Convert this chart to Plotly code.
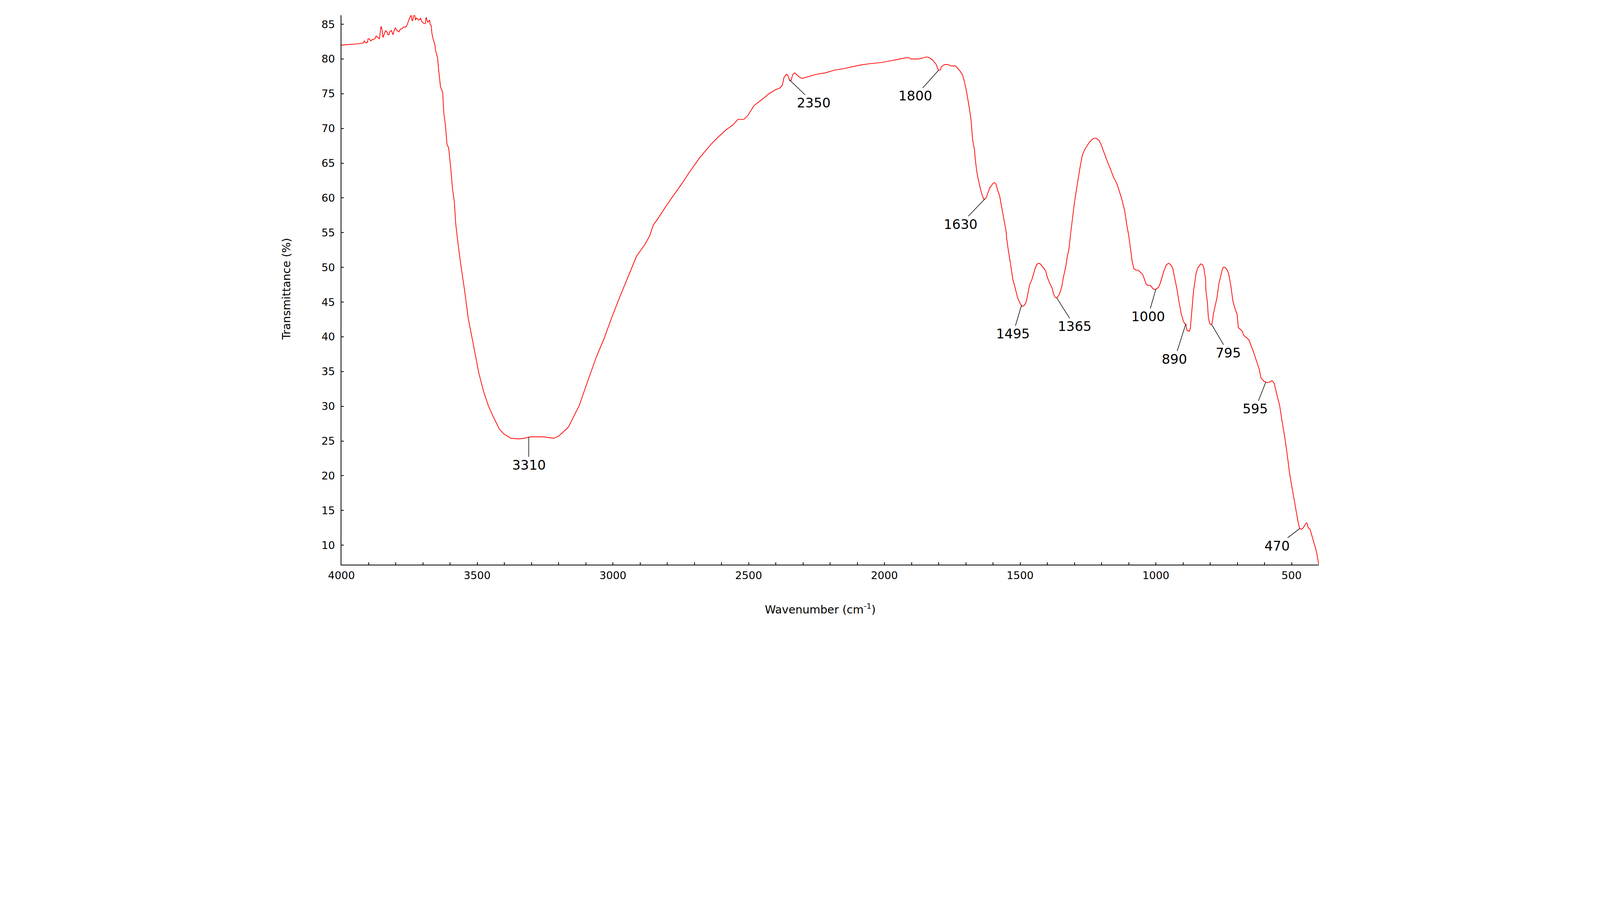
import numpy as np
import plotly.graph_objects as go

# FTIR spectrum
wavenumber = [
    4000, 3960, 3936, 3920, 3916, 3910, 3904, 3902, 3897, 3892, 3886, 3877, 3872, 3860,
    3854, 3850, 3847, 3844, 3837, 3831, 3829, 3824, 3823, 3816, 3810, 3805, 3801, 3796,
    3788, 3783, 3775, 3772, 3763, 3758, 3748, 3743, 3740, 3737, 3734, 3730, 3727, 3724,
    3720, 3717, 3711, 3709, 3704, 3696, 3691, 3688, 3682, 3679, 3675, 3673, 3669, 3667,
    3663, 3656, 3653, 3646, 3642, 3635, 3627, 3623, 3617, 3611, 3605, 3597, 3591, 3584,
    3579, 3570, 3561, 3546, 3533, 3517, 3494, 3476, 3459, 3442, 3418, 3401, 3376, 3348,
    3326, 3304, 3255, 3218, 3200, 3183, 3164, 3146, 3124, 3093, 3061, 3033, 3005, 2974,
    2944, 2913, 2882, 2865, 2851, 2838, 2806, 2785, 2745, 2720, 2680, 2639, 2611, 2583,
    2558, 2540, 2518, 2504, 2480, 2453, 2425, 2400, 2386, 2376, 2370, 2361, 2356, 2349,
    2344, 2337, 2330, 2313, 2303, 2250, 2218, 2183, 2151, 2118, 2093, 2058, 2010, 1955,
    1932, 1910, 1902, 1874, 1864, 1845, 1835, 1821, 1809, 1801, 1794, 1790, 1778, 1766,
    1754, 1738, 1722, 1712, 1705, 1697, 1689, 1681, 1675, 1668, 1665, 1660, 1655, 1648,
    1643, 1638, 1633, 1627, 1623, 1619, 1611, 1605, 1600, 1594, 1589, 1584, 1575, 1570,
    1564, 1558, 1552, 1549, 1544, 1535, 1527, 1518, 1509, 1499, 1492, 1485, 1479, 1475,
    1470, 1465, 1457, 1449, 1445, 1439, 1432, 1426, 1417, 1406, 1400, 1392, 1382, 1377,
    1371, 1365, 1357, 1352, 1346, 1342, 1337, 1331, 1326, 1320, 1315, 1310, 1305, 1301,
    1295, 1286, 1278, 1271, 1263, 1255, 1245, 1235, 1228, 1220, 1210, 1203, 1193, 1182,
    1170, 1156, 1143, 1136, 1126, 1115, 1107, 1100, 1096, 1092, 1087, 1081, 1073, 1065,
    1049, 1043, 1036, 1030, 1020, 1010, 1002, 991, 984, 971, 961, 952, 944, 938,
    929, 922, 915, 906, 899, 894, 889, 888, 885, 877, 873, 868, 861, 857,
    852, 846, 835, 828, 823, 820, 817, 816, 812, 810, 807, 803, 800, 794,
    791, 788, 779, 775, 768, 763, 756, 752, 745, 737, 732, 724, 716, 708,
    701, 696, 689, 682, 676, 667, 658, 642, 629, 619, 613, 602, 589, 580,
    572, 564, 555, 544, 535, 525, 515, 509, 503, 495, 489, 482, 475, 470,
    464, 459, 452, 446, 442, 439, 432, 425, 416, 408, 400,
]
transmittance = [
    82.0, 82.1, 82.2, 82.3, 82.6, 82.3, 82.4, 82.9, 82.9, 82.6, 82.8, 82.9, 83.3, 82.9,
    84.7, 84.2, 83.1, 83.4, 84.1, 83.8, 83.5, 83.5, 83.9, 84.1, 83.5, 84.2, 84.5, 84.1,
    83.9, 84.3, 84.4, 84.6, 84.6, 84.9, 86.0, 86.3, 85.5, 85.6, 86.3, 86.3, 85.6, 85.9,
    85.8, 85.6, 85.7, 85.9, 85.4, 85.1, 85.1, 86.0, 85.3, 85.4, 85.6, 85.0, 84.8, 83.8,
    83.0, 82.1, 81.2, 80.2, 78.5, 76.0, 75.2, 72.3, 70.5, 67.7, 67.2, 64.2, 61.4, 59.4,
    56.3, 53.3, 50.6, 46.6, 42.7, 39.5, 34.8, 32.1, 30.1, 28.6, 26.7, 26.0, 25.4, 25.3,
    25.4, 25.6, 25.6, 25.4, 25.7, 26.3, 27.0, 28.4, 30.1, 33.6, 37.1, 39.7, 42.7, 45.8,
    48.7, 51.6, 53.3, 54.5, 56.1, 56.8, 58.7, 59.9, 62.1, 63.6, 65.8, 67.7, 68.8, 69.8,
    70.5, 71.3, 71.3, 71.8, 73.3, 74.1, 75.0, 75.6, 75.8, 76.2, 77.3, 77.8, 77.7, 76.9,
    76.9, 77.8, 78.0, 77.4, 77.2, 77.8, 78.0, 78.4, 78.6, 78.9, 79.1, 79.3, 79.5, 79.9,
    80.1, 80.2, 80.0, 80.0, 80.1, 80.3, 80.2, 79.8, 79.2, 78.4, 78.4, 78.9, 79.2, 79.2,
    79.0, 79.0, 78.3, 77.7, 76.7, 75.2, 73.4, 71.3, 68.4, 66.9, 65.5, 63.9, 62.8, 61.7,
    60.8, 60.2, 59.8, 59.9, 60.2, 60.7, 61.5, 61.8, 62.1, 62.2, 62.0, 61.3, 60.2, 59.1,
    57.9, 56.6, 55.3, 54.0, 52.6, 50.4, 48.3, 47.0, 45.6, 44.7, 44.4, 44.5, 44.9, 45.5,
    46.6, 47.5, 48.2, 49.2, 49.8, 50.4, 50.6, 50.5, 50.1, 49.5, 48.6, 47.8, 47.0, 46.2,
    45.7, 45.6, 46.0, 46.5, 47.3, 48.3, 49.2, 50.3, 51.6, 52.7, 54.5, 56.2, 57.9, 59.0,
    60.6, 62.8, 64.7, 66.1, 66.9, 67.4, 68.0, 68.4, 68.6, 68.6, 68.3, 67.8, 66.7, 65.6,
    64.4, 63.0, 62.0, 61.1, 59.9, 58.2, 56.1, 54.6, 53.4, 52.0, 50.8, 49.8, 49.6, 49.6,
    49.0, 48.4, 47.6, 47.4, 47.4, 46.9, 46.8, 47.1, 47.7, 49.4, 50.4, 50.6, 50.3, 49.9,
    48.2, 46.8, 45.1, 43.2, 42.3, 41.9, 41.8, 41.4, 40.9, 40.8, 41.2, 43.3, 46.7, 47.7,
    49.1, 49.9, 50.5, 50.4, 49.9, 49.0, 48.5, 46.8, 45.3, 44.9, 43.0, 42.1, 41.8, 41.8,
    42.4, 43.3, 44.9, 45.6, 47.6, 48.5, 49.6, 50.0, 50.0, 49.6, 49.1, 47.4, 45.1, 44.0,
    43.3, 41.3, 41.1, 40.8, 40.2, 39.9, 39.6, 38.0, 36.5, 35.3, 34.1, 33.6, 33.4, 33.5,
    33.7, 33.3, 31.8, 30.1, 27.8, 25.5, 22.7, 20.8, 19.3, 17.5, 16.3, 14.7, 13.1, 12.4,
    12.3, 12.4, 12.8, 13.2, 13.1, 12.5, 12.3, 11.3, 10.0, 9.0, 7.2,
]

# labelled bands
peak_labels = [3310, 2350, 1800, 1630, 1495, 1365, 1000, 890, 795, 595, 470]

x_tickvals = list(range(500, 4001, 100))
x_ticktext = [str(v) if v % 500 == 0 else "" for v in x_tickvals]
y_tickvals = list(range(10, 86, 5))

# the page is shown with a device pixel ratio of ~1.474, so sizes are in css px
S = 1 / 1.474

# label offsets from the band point, in screen pixels (layout, not data)
LABEL_OFFSETS = {
    3310: (0, 105),
    2350: (92, 88),
    1800: (-88, 98),
    1630: (-92, 96),
    1495: (-32, 108),
    1365: (68, 108),
    1000: (-30, 104),
    890: (-42, 132),
    795: (64, 108),
    595: (-40, 102),
    470: (-86, 66),
}

FONT = "DejaVu Sans, Verdana, sans-serif"

# geometry measured on the 6011x2357 reference
W, H = 6011, 2357
L, R, T, B = 1277, 1047, 46, 239

fig = go.Figure()
fig.add_trace(
    go.Scatter(
        x=wavenumber,
        y=transmittance,
        mode="lines",
        line=dict(color="#ff0000", width=2.8 * S),
        showlegend=False,
        hoverinfo="x+y",
    )
)

wn_asc = np.array(wavenumber[::-1], dtype=float)
tr_asc = np.array(transmittance[::-1], dtype=float)

annotations = []
for p in peak_labels:
    ax, ay = LABEL_OFFSETS[p]
    annotations.append(
        dict(
            x=p,
            y=float(np.interp(p, wn_asc, tr_asc)),
            xref="x",
            yref="y",
            text=str(p),
            showarrow=True,
            arrowhead=0,
            arrowwidth=2.2 * S,
            arrowcolor="black",
            standoff=0,
            ax=ax * S,
            ay=ay * S,
            font=dict(family=FONT, size=50 * S, color="black"),
        )
    )

# axis titles
annotations.append(
    dict(
        x=(3083 - L) / (W - L - R),
        y=-(2284 - (H - B)) / (H - T - B),
        xref="paper",
        yref="paper",
        text="Wavenumber (cm<sup>-1</sup>)",
        showarrow=False,
        xanchor="center",
        yanchor="middle",
        font=dict(family=FONT, size=42 * S, color="black"),
    )
)
annotations.append(
    dict(
        x=(1071 - L) / (W - L - R),
        y=((H - B) - 1079) / (H - T - B),
        xref="paper",
        yref="paper",
        text="Transmittance (%)",
        textangle=-90,
        showarrow=False,
        xanchor="center",
        yanchor="middle",
        font=dict(family=FONT, size=42 * S, color="black"),
    )
)

fig.update_layout(
    width=round(W * S),
    height=round(H * S),
    margin=dict(l=L * S, r=R * S, t=T * S, b=B * S),
    paper_bgcolor="white",
    plot_bgcolor="white",
    font=dict(family=FONT, color="black"),
    annotations=annotations,
)
fig.update_xaxes(
    range=[4000, 400],
    tickvals=x_tickvals,
    ticktext=x_ticktext,
    ticks="inside",
    ticklen=9 * S,
    tickwidth=2.5 * S,
    tickcolor="black",
    ticklabelstandoff=2,
    tickfont=dict(family=FONT, size=40 * S, color="black"),
    showline=True,
    linecolor="black",
    linewidth=3 * S,
    showgrid=False,
    zeroline=False,
)
fig.update_yaxes(
    range=[7.2, 86.3],
    tickvals=y_tickvals,
    ticks="inside",
    ticklen=9 * S,
    tickwidth=2.5 * S,
    tickcolor="black",
    ticklabelstandoff=round(14 * S),
    tickfont=dict(family=FONT, size=40 * S, color="black"),
    showline=True,
    linecolor="black",
    linewidth=3 * S,
    showgrid=False,
    zeroline=False,
)

fig.write_html("out.html")
